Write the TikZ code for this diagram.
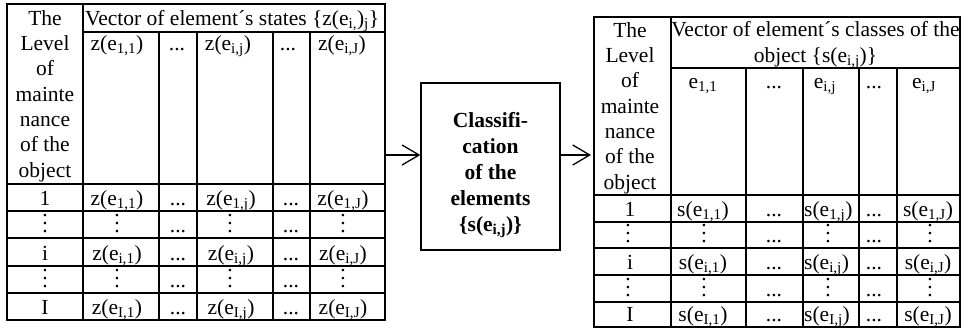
\documentclass[tikz,border=0pt]{standalone}
\usepackage{fontspec}
\setmainfont{Liberation Serif}
\usetikzlibrary{arrows.meta}

\newcommand{\zel}[1]{z(e\textsubscript{#1})}
\newcommand{\sel}[1]{s(e\textsubscript{#1})}
\newcommand{\el}[1]{e\textsubscript{#1}}
\newcommand{\vdts}{\vbox{\baselineskip=8pt\lineskiplimit=0pt\hbox{.}\hbox{.}\hbox{.}}}

\tikzset{
  grid/.style={line width=2pt},
  txt/.style={font=\fontsize{21.5}{25.3}\selectfont, inner sep=0pt, anchor=base},
  hdr/.style={txt, align=center},
  clsbox/.style={draw, line width=1.3pt, minimum width=139pt, minimum height=167pt, inner sep=0pt},
  arr/.style={line width=1.3pt, -{Straight Barb[length=17pt,width=20pt,line width=1.3pt]}}
}

\begin{document}
\begin{tikzpicture}[x=1pt,y=-1pt]
                \useasboundingbox (0,0) rectangle (973,333);
                \draw[grid] (7,4) rectangle (385,320);
                \draw[grid] (83,4) -- (83,320);
                \draw[grid] (83,32) -- (385,32);
                \foreach \x in {159,197,273,310} \draw[grid] (\x,32) -- (\x,320);
                \foreach \y in {184,211,238,266,293} \draw[grid] (7,\y) -- (385,\y);
                \node[hdr] (lside) at (45,177) {The\\Level\\of\\mainte\\nance\\of the\\object};
                \node[txt, anchor=base west] (lhead) at (85,25) {Vector of element´s states \{\zel{i,}\textsubscript{j}\}};
                \node[txt] (lc1) at (117,50) {\zel{1,1}};
                \node[txt] (lc2) at (177,50) {...};
                \node[txt] (lc3) at (228,50) {\zel{i,j}};
                \node[txt] (lc4) at (288,50) {...};
                \node[txt] (lc5) at (342,50) {\zel{i,J}};
                \foreach \y/\r in {205/1, 260/i, 314/I} {
                  \node[txt] (l\r0) at (45,\y) {\r};
                  \node[txt] (l\r1) at (117,\y) {\zel{\r,1}};
                  \node[txt] (l\r2) at (178,\y) {...};
                  \node[txt] (l\r3) at (231,\y) {\zel{\r,j}};
                  \node[txt] (l\r4) at (291,\y) {...};
                  \node[txt] (l\r5) at (343,\y) {\zel{\r,J}};
                }
                \foreach \y/\n in {232/a, 287/b} {
                  \node[txt] (lv\n0) at (45,\y) {\vdts};
                  \node[txt] (lv\n1) at (117,\y) {\vdts};
                  \node[txt] (lv\n2) at (178,\y) {...};
                  \node[txt] (lv\n3) at (230,\y) {\vdts};
                  \node[txt] (lv\n4) at (291,\y) {...};
                  \node[txt] (lv\n5) at (343,\y) {\vdts};
                }
                \node[clsbox] (cls) at (490.5,166.5) {};
                \node[hdr, font=\fontsize{21.5}{25.8}\selectfont\bfseries] (clstxt) at (490.5,231) {Classifi-\\cation\\of the\\elements\\\{\sel{i,j}\}};
                \coordinate (lt-e) at (385,155);
                \coordinate (rt-w) at (591,155);
                \draw[arr] (lt-e) -- (lt-e -| cls.west);
                \draw[arr] (cls.east |- rt-w) -- (rt-w);
                \draw[grid] (594,17) rectangle (960,327);
                \draw[grid] (671,17) -- (671,327);
                \draw[grid] (671,68) -- (960,68);
                \foreach \x in {746,803,859,897} \draw[grid] (\x,68) -- (\x,327);
                \foreach \y in {195,222,248,275,302} \draw[grid] (594,\y) -- (960,\y);
                \node[hdr] (rside) at (630,189) {The\\Level\\of\\mainte\\nance\\of the\\object};
                \node[hdr] (rhead) at (815.5,62) {Vector of element´s classes of the\\object \{\sel{i,j}\}};
                \node[txt] (rc1) at (703,88) {\el{1,1}};
                \node[txt] (rc2) at (774,88) {...};
                \node[txt] (rc3) at (825,88) {\el{i,j}};
                \node[txt] (rc4) at (874,88) {...};
                \node[txt] (rc5) at (924,88) {\el{i,J}};
                \foreach \y/\r in {216/1, 269/i, 321/I} {
                  \node[txt] (r\r0) at (630,\y) {\r};
                  \node[txt] (r\r1) at (703,\y) {\sel{\r,1}};
                  \node[txt] (r\r2) at (774,\y) {...};
                  \node[txt, anchor=base west] (r\r3) at (804,\y) {\sel{\r,j}};
                  \node[txt] (r\r4) at (874,\y) {...};
                  \node[txt] (r\r5) at (928,\y) {\sel{\r,J}};
                }
                \foreach \y/\n in {242/a, 296/b} {
                  \node[txt] (rv\n0) at (628,\y) {\vdts};
                  \node[txt] (rv\n1) at (704,\y) {\vdts};
                  \node[txt] (rv\n2) at (774,\y) {...};
                  \node[txt] (rv\n3) at (828,\y) {\vdts};
                  \node[txt] (rv\n4) at (874,\y) {...};
                  \node[txt] (rv\n5) at (930,\y) {\vdts};
                }
            \end{tikzpicture}
\end{document}
